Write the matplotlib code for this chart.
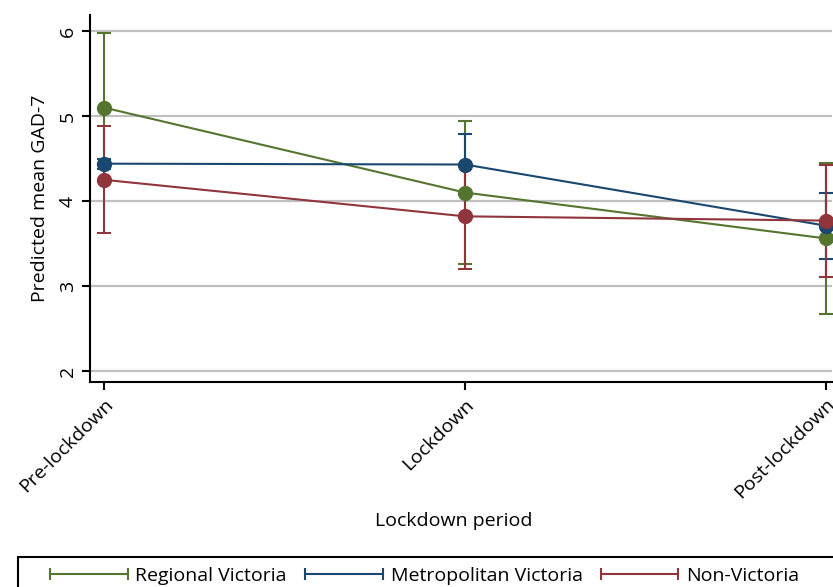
import matplotlib.pyplot as plt
from matplotlib.lines import Line2D
from matplotlib.patches import Rectangle

plt.rcParams['font.family'] = ['Open Sans', 'DejaVu Sans']

periods = ["Pre-lockdown", "Lockdown", "Post-lockdown"]
series_names = ["Regional Victoria", "Metropolitan Victoria", "Non-Victoria"]

regional_mean = [5.10, 4.10, 3.56]
regional_lo = [4.22, 3.26, 2.67]
regional_hi = [5.98, 4.94, 4.45]

metro_mean = [4.44, 4.43, 3.71]
metro_lo = [4.38, 4.07, 3.32]
metro_hi = [4.50, 4.79, 4.10]

nonvic_mean = [4.25, 3.82, 3.77]
nonvic_lo = [3.62, 3.20, 3.11]
nonvic_hi = [4.88, 4.44, 4.42]

colors = ["#55752f", "#1a476f", "#90353b"]

W, H = 833, 587
fig = plt.figure(figsize=(W / 100, H / 100), dpi=100)
ax = fig.add_axes([90 / W, 1 - 382 / H, 742 / W, 367 / H])

x = list(range(len(periods)))
data = [(regional_mean, regional_lo, regional_hi),
        (metro_mean, metro_lo, metro_hi),
        (nonvic_mean, nonvic_lo, nonvic_hi)]

for i, (m, lo, hi) in enumerate(data):
    err = [[a - b for a, b in zip(m, lo)], [b - a for a, b in zip(m, hi)]]
    ax.errorbar(x, m, yerr=err, fmt='none', ecolor=colors[i], elinewidth=1.5,
                capsize=5, capthick=1.5, zorder=2 + i)

for i, (m, lo, hi) in enumerate(data):
    ax.plot(x, m, color=colors[i], lw=1.5, marker='o', markersize=10, zorder=6 + i)

ax.set_xlim(-0.039, 2.017)
ax.set_ylim(1.87, 6.19)
ax.set_yticks([2, 3, 4, 5, 6])
ax.set_yticklabels(["2", "3", "4", "5", "6"], rotation=90, va='center', fontsize=14)
ax.set_xticks(x)
ax.set_xticklabels(periods, rotation=45, ha='right', rotation_mode='anchor', fontsize=14)
ax.yaxis.grid(True, color='#c0c0c0', lw=1.6)
ax.set_axisbelow(True)
ax.spines['top'].set_visible(False)
ax.spines['right'].set_visible(False)
ax.spines['left'].set_linewidth(1.5)
ax.spines['bottom'].set_linewidth(1.5)
ax.tick_params(length=6, width=1.5)
ax.set_ylabel("Predicted mean GAD-7", fontsize=14)
ax.yaxis.set_label_coords(-0.055, 0.5)
ax.set_xlabel("Lockdown period", fontsize=14)
ax.xaxis.set_label_coords(0.49, -0.355)

# legend box runs off the right and bottom edge like the reference
fig.patches.append(Rectangle((18 / W, -0.05), 1.0, 1 - 557 / H + 0.05, transform=fig.transFigure,
                             fill=False, edgecolor='black', lw=1.5))
handles = [Line2D([0, 1], [0, 0], color=c, lw=1.5, marker='|', markersize=9, markeredgewidth=1.5)
           for c in colors]
fig.legend(handles, series_names, loc='center left', ncol=3, numpoints=2,
           bbox_to_anchor=(44 / W, 1 - 576 / H), fontsize=14,
           handlelength=4.6, handletextpad=0.1, columnspacing=0.63,
           frameon=False, borderpad=0, borderaxespad=0)

fig.savefig("out.png", dpi=100)
